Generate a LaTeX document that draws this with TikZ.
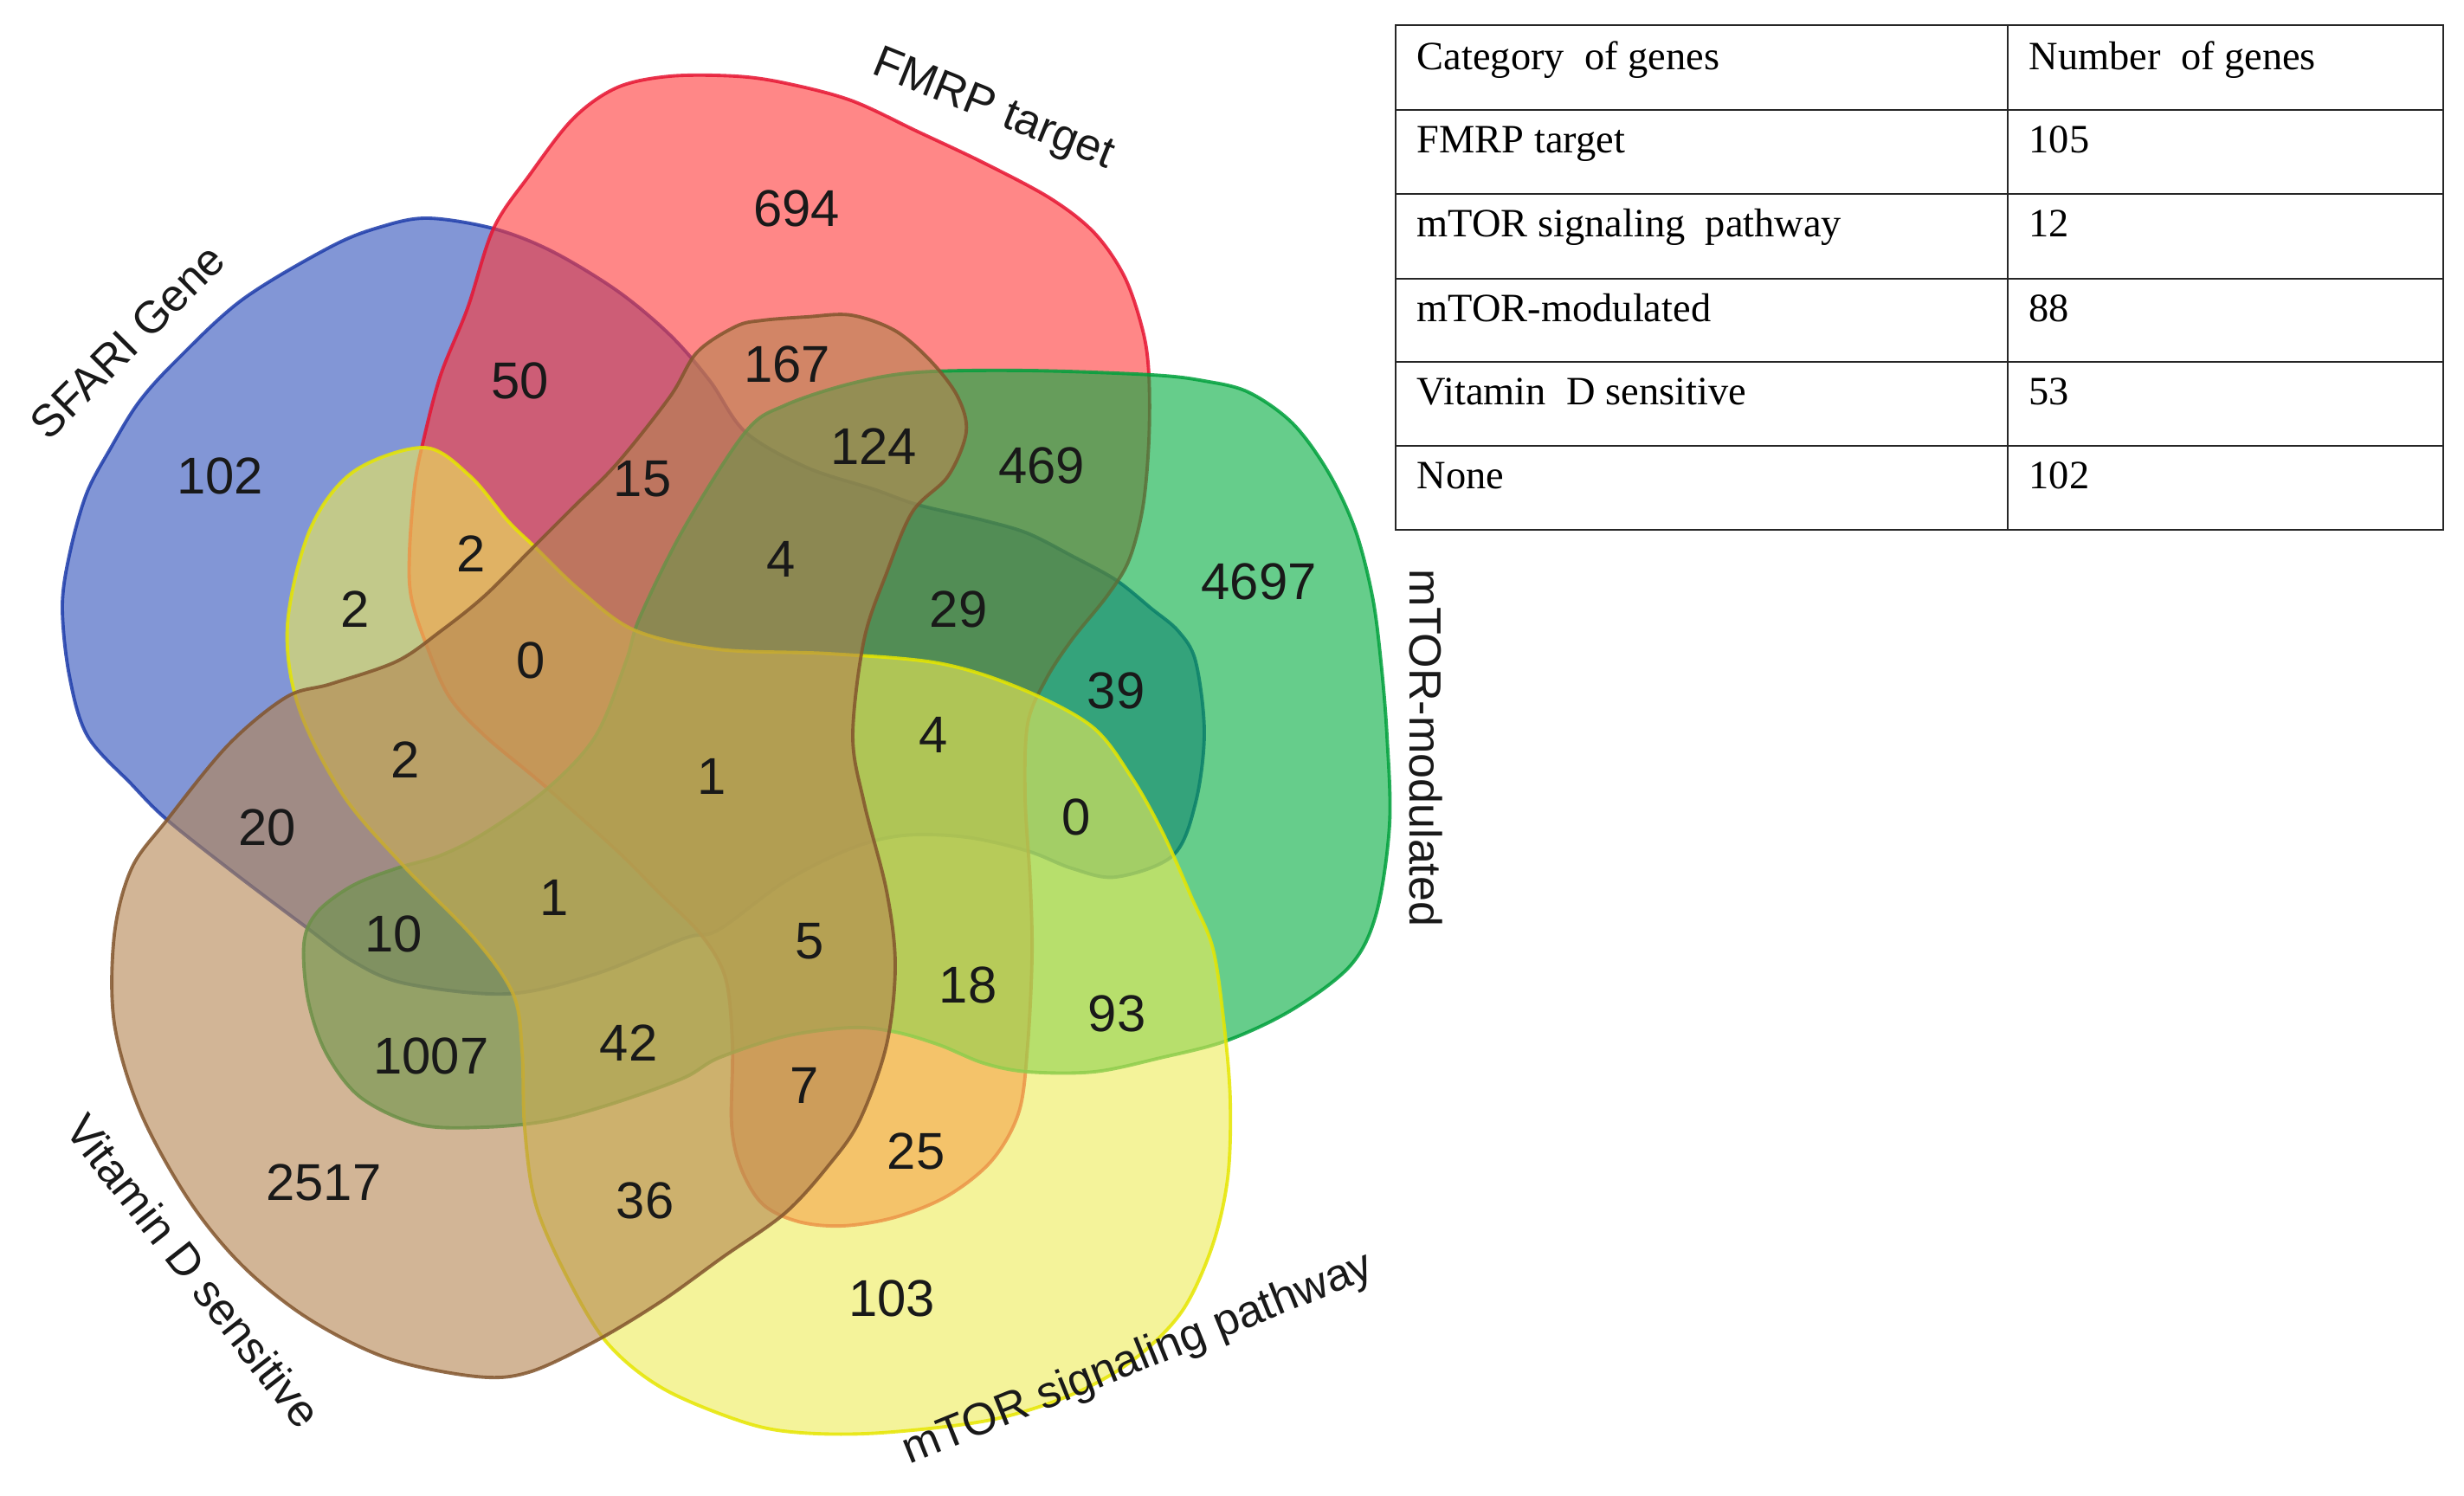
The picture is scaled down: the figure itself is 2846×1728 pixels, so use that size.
\documentclass[tikz,border=0pt]{standalone}
\usepackage{fontspec}
\setmainfont{Liberation Serif}
\newfontfamily\vennfont{Liberation Sans}
\definecolor{bfill}{RGB}{47,80,188}
\definecolor{rfill}{RGB}{255,55,55}
\definecolor{gfill}{RGB}{0,173,63}
\definecolor{yfill}{RGB}{238,235,88}
\definecolor{vfill}{RGB}{180,133,80}
\definecolor{bline}{RGB}{30,60,170}
\definecolor{rline}{RGB}{230,20,50}
\definecolor{gline}{RGB}{0,160,60}
\definecolor{yline}{RGB}{230,230,0}
\definecolor{vline}{RGB}{130,85,45}
\begin{document}
\begin{tikzpicture}[x=0.01cm,y=-0.01cm,
  vset/.style={line width=1.1pt, fill opacity=0.6, draw opacity=0.85},
  num/.style={font=\vennfont\fontsize{17}{17}\selectfont, text=black!90, inner sep=0pt},
  lab/.style={font=\vennfont\fontsize{14.8}{15}\selectfont, text=black!90, inner sep=0pt, anchor=base},
  cell/.style={font=\fontsize{13.2}{14}\selectfont, anchor=base west, inner sep=0pt},
  tline/.style={line width=0.8pt, draw=black!85}]
\useasboundingbox (0,0) rectangle (2846,1728);
\fill[white] (0,0) rectangle (2846,1728);

% SFARI Gene (blue)
\draw[vset, fill=bfill, draw=bline] plot[smooth cycle, tension=0.55] coordinates {
(494,252) (570,264) (637,290) (713,336) (774,387) (820,440) (861,499) (932,540)
(1009,565) (1060,583) (1136,601) (1187,616) (1238,642) (1289,670) (1330,703)
(1361,729) (1381,764) (1391,846) (1381,927) (1355,988) (1289,1013) (1238,1003)
(1187,983) (1116,967) (1044,965) (983,980) (907,1018) (830,1074) (790,1084)
(688,1125) (586,1148) (468,1136) (407,1110) (351,1069) (270,1008) (193,947)
(152,906) (101,850) (80,780) (72,700) (81,637) (100,570) (127,519) (160,465)
(203,417) (280,346) (382,285) (440,262)};

% FMRP target (red)
\draw[vset, fill=rfill, draw=rline] plot[smooth cycle, tension=0.55] coordinates {
(570,264) (611,203) (662,137) (713,101) (774,88) (850,88) (907,96) (983,116)
(1060,152) (1136,188) (1213,229) (1264,269) (1299,320) (1320,382) (1327,433)
(1327,509) (1320,586) (1304,647) (1279,688) (1238,739) (1208,785) (1187,836)
(1184,920) (1190,1020) (1192,1105) (1187,1207) (1177,1284) (1146,1340)
(1095,1381) (1034,1406) (973,1416) (922,1411) (881,1391) (856,1350) (845,1299)
(846,1207) (838,1130) (810,1080) (760,1030) (713,983) (627,906) (560,850)
(519,805) (494,749) (475,690) (473,637) (479,560) (489,509) (509,433) (540,356)};

% mTOR-modulated (green)
\draw[vset, fill=gfill, draw=gline] plot[smooth cycle, tension=0.55] coordinates {
(861,499) (907,468) (983,443) (1060,430) (1187,428) (1330,433) (1391,440)
(1442,453) (1493,489) (1534,545) (1565,611) (1585,688) (1595,764) (1602,850)
(1605,952) (1590,1054) (1560,1115) (1493,1166) (1417,1202) (1340,1222)
(1264,1238) (1187,1238) (1136,1228) (1085,1207) (1034,1192) (983,1187)
(907,1197) (830,1222) (790,1245) (713,1273) (637,1294) (560,1302) (484,1299)
(417,1268) (377,1217) (356,1156) (351,1090) (366,1054) (407,1023) (458,1003)
(509,988) (560,962) (632,911) (688,850) (723,764) (739,713) (790,610)};

% mTOR signaling pathway (yellow)
\draw[vset, fill=yfill, draw=yline] plot[smooth cycle, tension=0.55] coordinates {
(490,517) (543,550) (586,601) (619,633) (670,682) (733,728) (829,750) (957,755)
(1084,766) (1178,795) (1261,839) (1307,898) (1343,962) (1376,1036) (1401,1096)
(1414,1185) (1421,1272) (1418,1361) (1400,1440) (1365,1515) (1310,1570)
(1240,1610) (1145,1640) (1018,1655) (926,1655) (860,1643) (766,1604) (702,1552)
(657,1479) (619,1392) (606,1303) (603,1214) (593,1149) (548,1084) (466,1000)
(396,918) (345,817) (332,722) (358,612) (408,545)};

% Vitamin D sensitive (brown)
\draw[vset, fill=vfill, draw=vline] plot[smooth cycle, tension=0.55] coordinates {
(932,366) (983,364) (1034,382) (1075,417) (1106,458) (1116,499) (1095,550)
(1054,591) (1024,662) (998,739) (985,850) (998,927) (1024,1029) (1034,1115)
(1024,1207) (993,1294) (958,1345) (907,1401) (835,1452) (764,1503) (688,1549)
(611,1585) (550,1590) (448,1569) (356,1523) (280,1462) (218,1386) (162,1284)
(132,1182) (132,1080) (152,1003) (193,947) (264,860) (331,805) (382,790)
(458,764) (509,729) (560,688) (616,632) (662,586) (713,535) (774,458) (805,407)
(850,377) (881,370)};

% region counts
\node[num] (n694) at (920,241) {694};
\node[num] (n50) at (601,440) {50};
\node[num] (n167) at (909,421) {167};
\node[num] (n102) at (254,550) {102};
\node[num] (n124) at (1009,516) {124};
\node[num] (n469) at (1203,538) {469};
\node[num] (n15) at (742,553) {15};
\node[num] (n2a) at (544,640) {2};
\node[num] (n4a) at (902,646) {4};
\node[num] (n4697) at (1454,672) {4697};
\node[num] (n2b) at (410,704) {2};
\node[num] (n29) at (1107,704) {29};
\node[num] (n0a) at (613,763) {0};
\node[num] (n39) at (1289,798) {39};
\node[num] (n4b) at (1078,849) {4};
\node[num] (n1a) at (822,897) {1};
\node[num] (n2c) at (468,878) {2};
\node[num] (n0b) at (1243,944) {0};
\node[num] (n20) at (309,956) {20};
\node[num] (n1b) at (640,1037) {1};
\node[num] (n10) at (455,1079) {10};
\node[num] (n5) at (935,1087) {5};
\node[num] (n18) at (1118,1138) {18};
\node[num] (n93) at (1290,1171) {93};
\node[num] (n1007) at (498,1220) {1007};
\node[num] (n42) at (726,1205) {42};
\node[num] (n7) at (929,1254) {7};
\node[num] (n25) at (1058,1330) {25};
\node[num] (n2517) at (374,1366) {2517};
\node[num] (n36) at (745,1387) {36};
\node[num] (n103) at (1030,1500) {103};

% set labels
\node[lab, rotate=45] (lsfari) at (160,407) {SFARI Gene};
\node[lab, rotate=-22] (lfmrp) at (1142,140) {FMRP target};
\node[lab, rotate=-90] (lmod) at (1628,864) {mTOR-modulated};
\node[lab, rotate=22] (lsig) at (1320,1583) {mTOR signaling pathway};
\node[lab, rotate=-52] (lvitd) at (209,1479) {Vitamin D sensitive};

% table
\draw[tline] (1612,29) rectangle (2822,612);
\foreach \yy in {127,224,322,418,515} \draw[tline] (1612,\yy) -- (2822,\yy);
\draw[tline] (2319,29) -- (2319,612);
\node[cell] (c11) at (1636,81) {Category\ \ of genes};
\node[cell] (c12) at (2343,81) {Number\ \ of genes};
\node[cell] (c21) at (1636,177) {FMRP target};
\node[cell] (c22) at (2343,177) {105};
\node[cell] (c31) at (1636,274) {mTOR signaling\ \ pathway};
\node[cell] (c32) at (2343,274) {12};
\node[cell] (c41) at (1636,372) {mTOR-modulated};
\node[cell] (c42) at (2343,372) {88};
\node[cell] (c51) at (1636,468) {Vitamin\ \ D sensitive};
\node[cell] (c52) at (2343,468) {53};
\node[cell] (c61) at (1636,565) {None};
\node[cell] (c62) at (2343,565) {102};
\end{tikzpicture}
\end{document}
